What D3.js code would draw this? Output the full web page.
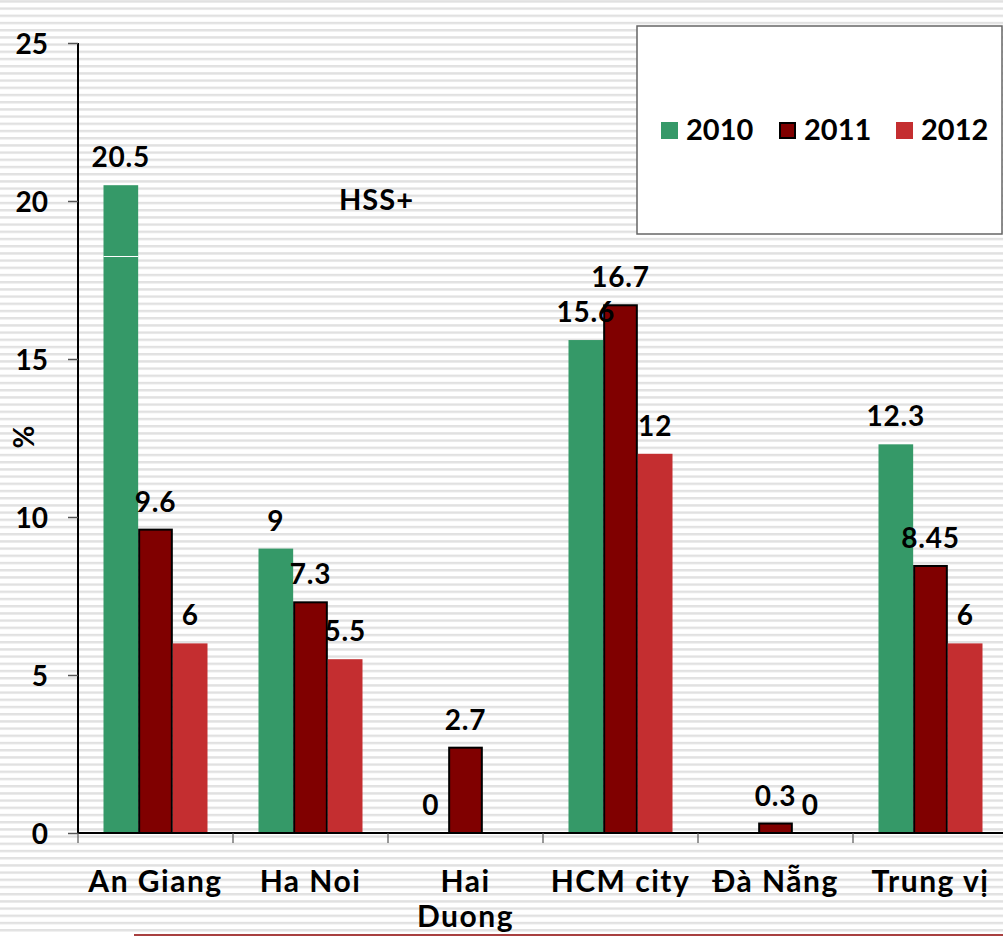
<!DOCTYPE html>
<html><head><meta charset="utf-8">
<script src="https://cdn.jsdelivr.net/npm/d3@7"></script>
<style>
html,body{margin:0;padding:0;background:#fff;overflow:hidden}
svg{display:block}
text{font-family:Lato,"Open Sans",sans-serif;font-weight:700;fill:#000}
</style></head>
<body>
<svg id="chart" width="1003" height="936"></svg>
<script>
const categories = ["An Giang", "Ha Noi", "Hai Duong", "HCM city", "Đà Nẵng", "Trung vị"];
const seriesNames = ["2010", "2011", "2012"];
const values2010 = [20.5, 9, 0, 15.6, null, 12.3];
const values2011 = [9.6, 7.3, 2.7, 16.7, 0.3, 8.45];
const values2012 = [6, 5.5, null, 12, 0, 6];
const yTicks = [0, 5, 10, 15, 20, 25];
const colors = ["#359968", "#800000", "#C42E30"];
const annotation = "HSS+";
const yTitle = "%";

const W = 1003, H = 936;
const svg = d3.select("#chart");

// striped background
const defs = svg.append("defs");
const pat = defs.append("pattern").attr("id","stripes").attr("patternUnits","userSpaceOnUse")
  .attr("x",0).attr("y",0.2).attr("width",10).attr("height",7.2);
pat.append("rect").attr("width",10).attr("height",7.2).attr("fill","#fff");
pat.append("rect").attr("y",0).attr("width",10).attr("height",2.4).attr("fill","#e1e1e1");
svg.append("rect").attr("width",W).attr("height",H).attr("fill","url(#stripes)");

const left = 78, bandW = 155;
const x0 = d3.scaleBand().domain(categories).range([left, left + bandW*categories.length]).paddingInner(0).paddingOuter(0);
const x1 = d3.scaleBand().domain(seriesNames).range([25.5, bandW-25.5]).padding(0);
const y = d3.scaleLinear().domain([0,25]).range([833,43]);

const seriesVals = [values2010, values2011, values2012];
const data = categories.map((c,i)=>({cat:c, vals: seriesNames.map((s,j)=>({s, j, v: seriesVals[j][i]}))}));

// bars
const g = svg.append("g");
const groups = g.selectAll("g.cat").data(data).join("g").attr("transform", d=>`translate(${x0(d.cat)},0)`);
groups.selectAll("rect").data(d=>d.vals.filter(e=>e.v!==null && e.v>0)).join("rect")
  .attr("x", e=>x1(e.s) + (e.j===1?1:0))
  .attr("width", e=>x1.bandwidth() - (e.j===1?2:0))
  .attr("y", e=>y(e.v))
  .attr("height", e=>y(0)-y(e.v))
  .attr("fill", e=>colors[e.j])
  .attr("stroke", e=>e.j===1?"#000":"none")
  .attr("stroke-width", 2);

// white artifact line across first green bar
svg.append("line").attr("x1", x0(categories[0])+x1("2010")).attr("x2", x0(categories[0])+x1("2010")+x1.bandwidth())
  .attr("y1",256.5).attr("y2",256.5).attr("stroke","#fff").attr("stroke-width",1.2);

// data labels
groups.selectAll("text.lbl").data(d=>d.vals.filter(e=>e.v!==null)).join("text")
  .attr("class","lbl")
  .attr("x", e=>x1(e.s)+x1.bandwidth()/2)
  .attr("y", e=>y(e.v)-18)
  .attr("text-anchor","middle")
  .style("font-size","28px").style("letter-spacing","0.8px")
  .text(e=>String(e.v));

// y axis
const yAxis = d3.axisLeft(y).tickValues(yTicks).tickSize(10).tickFormat(d3.format("d"));
const ya = svg.append("g").attr("transform",`translate(${left},0)`).call(yAxis);
ya.select(".domain").attr("stroke","#000").attr("stroke-width",2).attr("d",`M0,${y(25)}V${y(0)}`);
ya.selectAll(".tick line").attr("stroke","#555").attr("stroke-width",1.5);
ya.selectAll(".tick text").attr("x",-30).attr("dy","0.36em")
  .style("font-size","28px").style("font-family","Lato,sans-serif").style("font-weight","700").attr("fill","#000");

// x axis
const xa = svg.append("g").attr("transform",`translate(0,${y(0)})`);
xa.append("line").attr("x1",left).attr("x2",W).attr("y1",0).attr("y2",0).attr("stroke","#000").attr("stroke-width",2);
xa.selectAll("line.tk").data(categories).join("line").attr("class","tk")
  .attr("x1",d=>x0(d)).attr("x2",d=>x0(d)).attr("y1",0).attr("y2",10).attr("stroke","#555").attr("stroke-width",1.2);
const catText = xa.selectAll("text.cat").data(categories).join("text").attr("class","cat")
  .attr("text-anchor","middle")
  .attr("x", d=>x0(d)+x0.bandwidth()/2)
  .attr("y", 59)
  .style("font-size","30px").style("letter-spacing","1.5px");
catText.each(function(d){
  const t = d3.select(this);
  if (d === "Hai Duong") {
    const parts = d.split(" ");
    parts.forEach((p,k)=>t.append("tspan").attr("x", x0(d)+x0.bandwidth()/2).attr("dy", k===0?0:35).text(p));
  } else t.text(d);
});

// annotation
svg.append("text").attr("x",339).attr("y",210).style("font-size","29px").style("letter-spacing","1px").text(annotation);

// y title
svg.append("text").attr("transform","translate(34,437) rotate(-90)").attr("text-anchor","middle")
  .style("font-size","28px").text(yTitle);

// legend
const lg = svg.append("g");
lg.append("rect").attr("x",637).attr("y",26).attr("width",365).attr("height",208)
  .attr("fill","#fff").attr("stroke","#666").attr("stroke-width",1.5);
const legX = [661, 779, 896];
const li = lg.selectAll("g.li").data(seriesNames).join("g").attr("class","li")
  .attr("transform",(d,i)=>`translate(${legX[i]},122)`);
li.append("rect").attr("x",(d,i)=>i===1?1:0).attr("y",(d,i)=>i===1?1:0)
  .attr("width",(d,i)=>i===1?15:17).attr("height",(d,i)=>i===1?15:17)
  .attr("fill",(d,i)=>colors[i]).attr("stroke",(d,i)=>i===1?"#000":"none").attr("stroke-width",2);
li.append("text").attr("x",25).attr("y",18).style("font-size","29px").text(d=>d);

// bottom decorative line
svg.append("line").attr("x1",134).attr("x2",W).attr("y1",935).attr("y2",935).attr("stroke","#8b0000").attr("stroke-width",1.5);
</script>
</body></html>
